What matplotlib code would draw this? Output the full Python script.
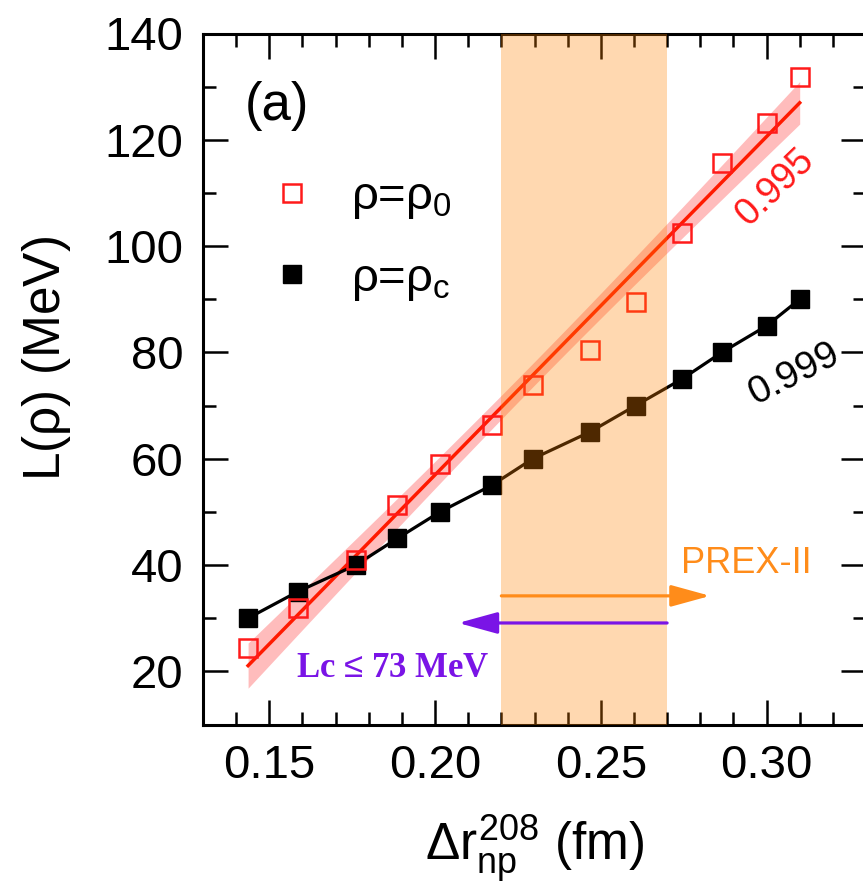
import numpy as np
import matplotlib
matplotlib.use("Agg")
import matplotlib.pyplot as plt
from matplotlib.lines import Line2D

plt.rcParams['font.family'] = ['Liberation Sans', 'DejaVu Sans']
plt.rcParams['mathtext.fontset'] = 'custom'
plt.rcParams['mathtext.rm'] = 'Liberation Sans'
plt.rcParams['mathtext.it'] = 'Liberation Sans'
plt.rcParams['mathtext.bf'] = 'Liberation Sans:bold'

# ---------------- data ----------------
drnp = [0.1436, 0.1586, 0.1761, 0.1886, 0.2015, 0.2171, 0.2295,
        0.2466, 0.2605, 0.2745, 0.2865, 0.3000, 0.3100]
L_rho0 = [24.3, 31.9, 40.9, 51.3, 59.1, 66.3, 73.9,
          80.5, 89.5, 102.4, 115.6, 123.1, 131.9]
L_rhoc = [30.0, 35.0, 40.0, 45.0, 50.0, 55.0, 60.0,
          65.0, 70.0, 75.0, 80.0, 85.0, 90.0]
prex_band = (0.22, 0.27)
prex_arrow = (0.22, 0.283, 34.2)
lc_arrow = (0.27, 0.207, 29.1)
corr_rho0 = "0.995"
corr_rhoc = "0.999"
yticks = [20, 40, 60, 80, 100, 120, 140]
xticks = [0.15, 0.20, 0.25, 0.30]

x = np.array(drnp)
y0 = np.array(L_rho0)
yc = np.array(L_rhoc)

# linear fit + 95% confidence band for rho0
p = np.polyfit(x, y0, 1)
n = len(x)
res = y0 - np.polyval(p, x)
s = np.sqrt(np.sum(res**2) / (n - 2))
xm = x.mean()
sxx = np.sum((x - xm)**2)
xf = np.linspace(x.min(), x.max(), 200)
yf = np.polyval(p, xf)
se = s * np.sqrt(1.0 / n + (xf - xm)**2 / sxx)
tval = 2.201
lo, hi = yf - tval * se, yf + tval * se

fig = plt.figure(figsize=(8.63, 8.84), dpi=100)
ax = fig.add_axes([203/863, (884-724.5)/884, 663/863, 691/884])

red = '#ff1a1a'
ax.fill_between(xf, lo, hi, color='#ff5050', alpha=0.38, lw=0, zorder=2)
ax.plot(xf, yf, color='#ff1a00', lw=2.5, zorder=3)
ax.plot(x, yc, '-s', color='black', lw=2.3, ms=13.5, mew=1, zorder=4)
ax.plot(x, y0, 's', mfc='none', mec=red, ms=13, mew=1.8, zorder=5)

ax.axvspan(prex_band[0], prex_band[1], color='#ff8200', alpha=0.31, lw=0, zorder=6)

ax.annotate('', xy=(prex_arrow[1], prex_arrow[2]), xytext=(prex_arrow[0], prex_arrow[2]),
            arrowprops=dict(arrowstyle='-|>,head_length=0.8,head_width=0.22',
                            color='#ff8c1a', lw=2.3, mutation_scale=30,
                            shrinkA=0, shrinkB=0), zorder=7)
ax.annotate('', xy=(lc_arrow[1], lc_arrow[2]), xytext=(lc_arrow[0], lc_arrow[2]),
            arrowprops=dict(arrowstyle='-|>,head_length=0.8,head_width=0.22',
                            color='#7a14e6', lw=2.3, mutation_scale=30,
                            shrinkA=0, shrinkB=0), zorder=7)

ax.text(0.2742, 38.5, 'PREX-II', color='#ff8c1a', fontsize=26,
        ha='left', va='baseline', zorder=8)
ax.text(0.1581, 18.9, 'Lc $\u2264$ 73 MeV', color='#7a14e6', fontsize=25,
        family=['Liberation Serif', 'DejaVu Serif'], fontweight='bold',
        ha='left', va='baseline', zorder=8)
ax.text(0.1425, 126.4, '(a)', fontsize=38, ha='left', va='center', zorder=8)
ax.text(0.3027, 111.1, corr_rho0, color=red, fontsize=27, rotation=44,
        ha='center', va='center', rotation_mode='anchor', zorder=8)
ax.text(0.3083, 76.0, corr_rhoc, color='black', fontsize=28, rotation=27,
        ha='center', va='center', rotation_mode='anchor', zorder=8)

ax.set_xlim(0.1305, 0.3294)
ax.set_ylim(10, 140)
ax.set_xticks(xticks)
ax.set_xticklabels([f'{v:.2f}' for v in xticks])
ax.set_xticks(np.arange(0.13, 0.331, 0.01), minor=True)
ax.set_yticks(yticks)
ax.set_yticks(np.arange(10, 141, 10), minor=True)

ax.tick_params(which='both', direction='in', top=True, right=True, width=1.8,
               labelsize=34, pad=14)
ax.tick_params(which='major', length=18)
ax.tick_params(which='minor', length=9.5)
for sp in ax.spines.values():
    sp.set_linewidth(2.2)

ax.set_ylabel(r'L($\rho$) (MeV)', fontsize=37)
ax.yaxis.set_label_coords(-0.196, 0.53)
ax.set_xlabel(r'$\Delta r_{\rm np}^{208}$ (fm)', fontsize=37)
ax.xaxis.set_label_coords(0.5, -0.127)

h_red = Line2D([], [], ls='none', marker='s', mfc='none', mec=red, ms=13, mew=1.8)
h_blk = Line2D([], [], ls='none', marker='s', color='black', ms=13.5, mew=1)
leg = ax.legend([h_red, h_blk], [r'$\rho$=$\rho_{0}$', r'$\rho$=$\rho_{\rm c}$'],
                loc='upper left', bbox_to_anchor=(0.098, 0.795), frameon=False,
                fontsize=34, handlelength=1.0, handletextpad=0.75,
                labelspacing=0.75, borderaxespad=0, borderpad=0)

fig.savefig('out.png', dpi=100)
